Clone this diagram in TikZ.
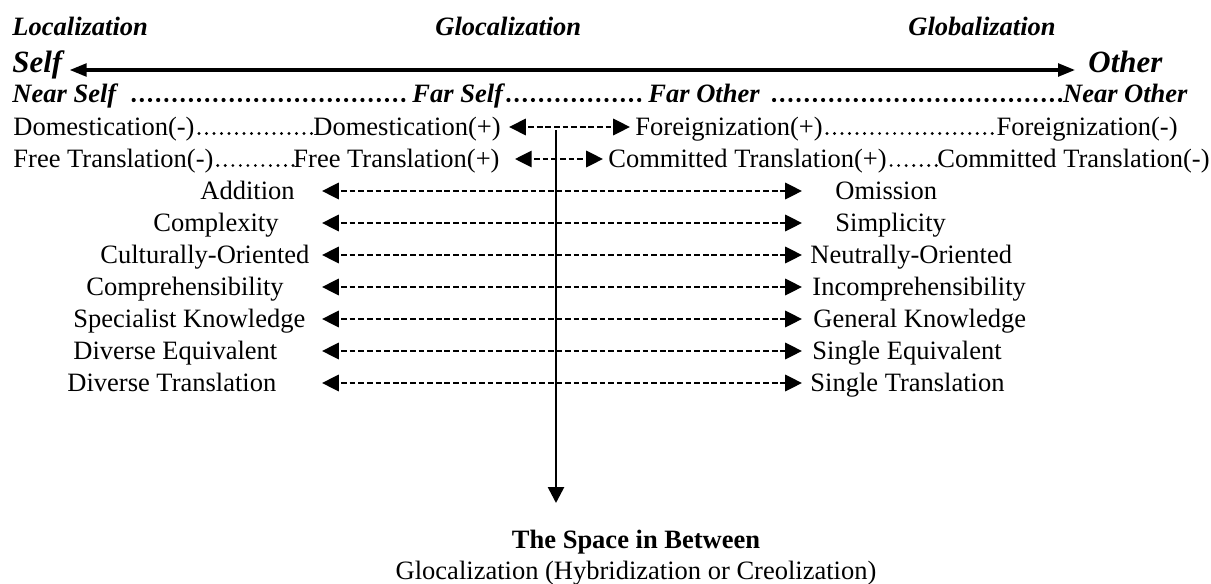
\documentclass[tikz,border=0pt]{standalone}
\usepackage{fontspec}
\setmainfont{Liberation Serif}
\usetikzlibrary{arrows.meta,calc}
\begin{document}
\begin{tikzpicture}[x=0.4528pt,y=-0.4528pt,
 lbl/.style={inner sep=0pt, anchor=base west, font=\fontsize{12}{14}\selectfont},
 lble/.style={lbl, anchor=base east},
 hd/.style={inner sep=0pt, anchor=base west, font=\fontsize{12}{14}\selectfont\bfseries\itshape},
 big/.style={inner sep=0pt, anchor=base west, font=\fontsize{14}{16}\selectfont\bfseries\itshape},
 dashar/.style={line width=0.95pt, dash pattern=on 2.6pt off 1.3pt, dash phase=2.6pt,
   {Triangle[length=7.6pt,width=7.4pt]}-{Triangle[length=7.6pt,width=7.4pt]}},
 mainar/.style={line width=1.4pt, {Triangle[length=7.7pt,width=5.8pt]}-{Triangle[length=7.7pt,width=5.8pt]}},
 downar/.style={line width=1.2pt, -{Triangle[length=7.2pt,width=7.2pt]}},
 ldots/.style={line width=1.45pt, line cap=round, dash pattern=on 0pt off 3.4pt},
 bdots/.style={line width=1.9pt, line cap=round, dash pattern=on 0pt off 3.7pt},
]
\useasboundingbox (0,0) rectangle (1211,584);

% headings
\node[hd] (loc) at (12,36) {Localization};
\node[hd] (gloc) at (435,36) {Glocalization};
\node[hd] (glob) at (908,36) {Globalization};
\node[big] (self) at (12,72) {Self};
\node[big] (other) at (1088,72) {Other};
\draw[mainar] ($(self.base east)+(7,-2)$) -- ($(other.base west)+(-13,-2)$);

% near / far row
\node[hd] (nself) at (12,102) {Near Self};
\node[hd] (fself) at (412,102) {Far Self};
\node[hd] (fother) at (648,102) {Far Other};
\node[hd, anchor=base east] (nother) at (1188,102) {Near Other};
\draw[bdots] ($(nself.base east)+(17,-2)$) -- ($(fself.base west)+(-1,-2)$);
\draw[bdots] ($(fself.base east)+(5,-2)$) -- ($(fother.base west)+(-1,-2)$);
\draw[bdots] ($(fother.base east)+(14,-2)$) -- ($(nother.base west)+(-1,-2)$);

% domestication row
\node[lbl] (dm) at (13,135) {Domestication(-)};
\node[lbl] (dp) at (313,135) {Domestication(+)};
\node[lbl] (fp) at (635,135) {Foreignization(+)};
\node[lble] (fm) at (1178,135) {Foreignization(-)};
\draw[ldots] ($(dm.base east)+(4,-1.5)$) -- ($(dp.base west)+(0,-1.5)$);
\draw[dashar] ($(dp.base east)+(8,-8)$) -- ($(fp.base west)+(-5,-8)$);
\draw[ldots] ($(fp.base east)+(4,-1.5)$) -- ($(fm.base west)+(0,-1.5)$);

% free translation row
\node[lbl] (ftm) at (13,167) {Free Translation(-)};
\node[lbl] (ftp) at (293,167) {Free Translation(+)};
\node[lbl] (ctp) at (608,167) {Committed Translation(+)};
\node[lble] (ctm) at (1210,167) {Committed Translation(-)};
\draw[ldots] ($(ftm.base east)+(4,-1.5)$) -- ($(ftp.base west)+(0,-1.5)$);
\draw[dashar] ($(ftp.base east)+(15,-8)$) -- ($(ctp.base west)+(-5,-8)$);
\draw[ldots] ($(ctp.base east)+(4,-1.5)$) -- ($(ctm.base west)+(0,-1.5)$);

% opposing pairs
\coordinate (lt) at (322,0);
\coordinate (rt) at (802,0);
\node[lbl] (l3) at (200,199) {Addition};
\node[lbl] (r3) at (835,199) {Omission};
\node[lbl] (l4) at (153,231) {Complexity};
\node[lbl] (r4) at (835,231) {Simplicity};
\node[lbl] (l5) at (100,263) {Culturally-Oriented};
\node[lbl] (r5) at (810,263) {Neutrally-Oriented};
\node[lbl] (l6) at (86,295) {Comprehensibility};
\node[lbl] (r6) at (812,295) {Incomprehensibility};
\node[lbl] (l7) at (73,327) {Specialist Knowledge};
\node[lbl] (r7) at (813,327) {General Knowledge};
\node[lbl] (l8) at (73,359) {Diverse Equivalent};
\node[lbl] (r8) at (812,359) {Single Equivalent};
\node[lbl] (l9) at (67,391) {Diverse Translation};
\node[lbl] (r9) at (810,391) {Single Translation};
\foreach \i in {3,...,9}{
  \draw[dashar] ($(lt |- l\i.base)+(0,-8)$) -- ($(rt |- r\i.base)+(0,-8)$);
}

% the space in between
\node[inner sep=0pt, anchor=base, font=\fontsize{12}{14}\selectfont\bfseries] (space) at (636,548) {The Space in Between};
\node[inner sep=0pt, anchor=base, font=\fontsize{12}{14}\selectfont] (hyb) at (636,579) {Glocalization (Hybridization or Creolization)};
\coordinate (vtop) at (556,130);
\draw[downar] (vtop) -- ($(vtop |- space.base)+(0,-45)$);
\end{tikzpicture}
\end{document}
